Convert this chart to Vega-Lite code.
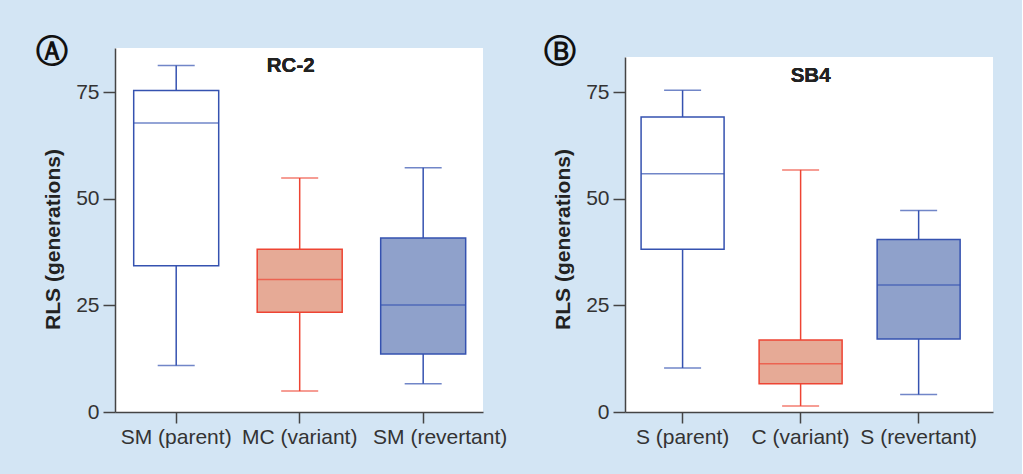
{
  "$schema": "https://vega.github.io/schema/vega-lite/v6.json",
  "background": "#d3e5f4",
  "padding": {"left": 35, "top": 36, "right": 29, "bottom": 27},
  "spacing": 36,
  "datasets": {
    "a": [
      {"g": "SM (parent)", "kind": "parent", "lo": 10.9, "q1": 34.3, "med": 67.8, "q3": 75.4, "hi": 81.3},
      {"g": "MC (variant)", "kind": "variant", "lo": 4.9, "q1": 23.4, "med": 31.1, "q3": 38.2, "hi": 54.9},
      {"g": "SM (revertant)", "kind": "revertant", "lo": 6.6, "q1": 13.6, "med": 25.1, "q3": 40.8, "hi": 57.3}
    ],
    "b": [
      {"g": "S (parent)", "kind": "parent", "lo": 10.3, "q1": 38.2, "med": 55.9, "q3": 69.2, "hi": 75.5},
      {"g": "C (variant)", "kind": "variant", "lo": 1.4, "q1": 6.6, "med": 11.3, "q3": 16.9, "hi": 56.8},
      {"g": "S (revertant)", "kind": "revertant", "lo": 4.1, "q1": 17.1, "med": 29.8, "q3": 40.5, "hi": 47.3}
    ]
  },
  "config": {
    "font": "Liberation Sans",
    "view": {"fill": "white", "stroke": null},
    "axis": {
      "grid": false,
      "domainColor": "#444",
      "domainWidth": 1.5,
      "tickColor": "#444",
      "tickWidth": 1.5,
      "labelFont": "Liberation Sans",
      "labelFontSize": 21,
      "labelColor": "#333",
      "titleFont": "Liberation Sans",
      "titleFontSize": 21,
      "titleFontWeight": "bold",
      "titleColor": "#222"
    },
    "axisX": {"tickSize": 11, "labelPadding": 3, "labelAngle": 0, "title": null},
    "axisY": {"tickSize": 12, "labelPadding": 4, "titlePadding": 12, "titleY": 191}
  },
  "hconcat": [
    {
      "width": 368,
      "height": 364,
      "data": {"name": "a"},
      "title": {"text": "Ⓐ", "anchor": "start", "frame": "bounds", "orient": "top", "offset": -21, "fontSize": 32, "font": "DejaVu Sans", "fontWeight": "bold", "color": "#111", "dx": -7},
      "encoding": {
        "x": {"field": "g", "type": "nominal", "sort": null, "scale": {"paddingInner": 0.3, "paddingOuter": 0.14, "align": 0.52}, "axis": {"title": null, "labelOffset": {"condition": {"test": "datum.value == 'SM (revertant)'", "value": 17}, "value": 0}}}
      },
      "layer": [
        {
          "mark": {"type": "rule", "strokeWidth": 1.5},
          "encoding": {
            "y": {"field": "lo", "type": "quantitative", "title": "RLS (generations)", "scale": {"domain": [0, 85.4], "nice": false}, "axis": {"values": [0, 25, 50, 75]}},
            "y2": {"field": "hi"},
            "color": {"field": "kind", "type": "nominal", "scale": {"domain": ["parent", "variant", "revertant"], "range": ["#3552b0", "#ee4433", "#3552b0"]}, "legend": null}
          }
        },
        {
          "mark": {"type": "bar", "size": 85, "strokeWidth": 1.5},
          "encoding": {
            "y": {"field": "q1", "type": "quantitative", "title": "RLS (generations)"},
            "y2": {"field": "q3"},
            "fill": {"field": "kind", "type": "nominal", "scale": {"domain": ["parent", "variant", "revertant"], "range": ["#ffffff", "#e6aa96", "#8fa1cb"]}, "legend": null},
            "stroke": {"field": "kind", "type": "nominal", "scale": {"domain": ["parent", "variant", "revertant"], "range": ["#3552b0", "#ee4433", "#3552b0"]}, "legend": null}
          }
        },
        {
          "mark": {"type": "tick", "size": 85, "thickness": 1.5},
          "encoding": {
            "y": {"field": "med", "type": "quantitative", "title": "RLS (generations)"},
            "color": {"field": "kind", "type": "nominal", "scale": {"domain": ["parent", "variant", "revertant"], "range": ["#3552b0", "#ee4433", "#3552b0"]}, "legend": null}
          }
        },
        {
          "mark": {"type": "tick", "size": 37, "thickness": 1.5},
          "encoding": {
            "y": {"field": "lo", "type": "quantitative", "title": "RLS (generations)"},
            "color": {"field": "kind", "type": "nominal", "scale": {"domain": ["parent", "variant", "revertant"], "range": ["#3552b0", "#ee4433", "#3552b0"]}, "legend": null}
          }
        },
        {
          "mark": {"type": "tick", "size": 37, "thickness": 1.5},
          "encoding": {
            "y": {"field": "hi", "type": "quantitative", "title": "RLS (generations)"},
            "color": {"field": "kind", "type": "nominal", "scale": {"domain": ["parent", "variant", "revertant"], "range": ["#3552b0", "#ee4433", "#3552b0"]}, "legend": null}
          }
        },
        {
          "mark": {"type": "text", "fontSize": 20.5, "fontWeight": "bold", "color": "#222", "dx": -9, "baseline": "middle"},
          "encoding": {
            "x": {"datum": "MC (variant)"},
            "y": {"datum": 81.2, "type": "quantitative", "title": "RLS (generations)"},
            "text": {"value": "RC-2"}
          }
        }
      ]
    },
    {
      "width": 368,
      "height": 364,
      "data": {"name": "b"},
      "title": {"text": "Ⓑ", "anchor": "start", "frame": "bounds", "orient": "top", "offset": -21, "fontSize": 32, "font": "DejaVu Sans", "fontWeight": "bold", "color": "#111", "dx": -9},
      "layer": [
        {
          "data": {"values": [{}]},
          "mark": {"type": "rect", "color": "#d3e5f4"},
          "encoding": {
            "y": {"datum": 83.3, "type": "quantitative", "title": "RLS (generations)", "scale": {"domain": [0, 85.4], "nice": false}, "axis": {"values": [0, 25, 50, 75], "domainDash": [355, 40]}},
            "y2": {"datum": 85.4}
          }
        },
        {
          "mark": {"type": "rule", "strokeWidth": 1.5},
          "encoding": {
            "x": {"field": "g", "type": "nominal", "sort": null, "scale": {"paddingInner": 0.3, "paddingOuter": 0.209, "align": 0.33}, "axis": {"title": null}},
            "y": {"field": "lo", "type": "quantitative", "title": "RLS (generations)"},
            "y2": {"field": "hi"},
            "color": {"field": "kind", "type": "nominal", "scale": {"domain": ["parent", "variant", "revertant"], "range": ["#3552b0", "#ee4433", "#3552b0"]}, "legend": null}
          }
        },
        {
          "mark": {"type": "bar", "size": 83, "strokeWidth": 1.5},
          "encoding": {
            "x": {"field": "g", "type": "nominal", "sort": null},
            "y": {"field": "q1", "type": "quantitative", "title": "RLS (generations)"},
            "y2": {"field": "q3"},
            "fill": {"field": "kind", "type": "nominal", "scale": {"domain": ["parent", "variant", "revertant"], "range": ["#ffffff", "#e6aa96", "#8fa1cb"]}, "legend": null},
            "stroke": {"field": "kind", "type": "nominal", "scale": {"domain": ["parent", "variant", "revertant"], "range": ["#3552b0", "#ee4433", "#3552b0"]}, "legend": null}
          }
        },
        {
          "mark": {"type": "tick", "size": 83, "thickness": 1.5},
          "encoding": {
            "x": {"field": "g", "type": "nominal", "sort": null},
            "y": {"field": "med", "type": "quantitative", "title": "RLS (generations)"},
            "color": {"field": "kind", "type": "nominal", "scale": {"domain": ["parent", "variant", "revertant"], "range": ["#3552b0", "#ee4433", "#3552b0"]}, "legend": null}
          }
        },
        {
          "mark": {"type": "tick", "size": 37, "thickness": 1.5},
          "encoding": {
            "x": {"field": "g", "type": "nominal", "sort": null},
            "y": {"field": "lo", "type": "quantitative", "title": "RLS (generations)"},
            "color": {"field": "kind", "type": "nominal", "scale": {"domain": ["parent", "variant", "revertant"], "range": ["#3552b0", "#ee4433", "#3552b0"]}, "legend": null}
          }
        },
        {
          "mark": {"type": "tick", "size": 37, "thickness": 1.5},
          "encoding": {
            "x": {"field": "g", "type": "nominal", "sort": null},
            "y": {"field": "hi", "type": "quantitative", "title": "RLS (generations)"},
            "color": {"field": "kind", "type": "nominal", "scale": {"domain": ["parent", "variant", "revertant"], "range": ["#3552b0", "#ee4433", "#3552b0"]}, "legend": null}
          }
        },
        {
          "mark": {"type": "text", "fontSize": 20.5, "fontWeight": "bold", "color": "#222", "dx": 10, "baseline": "middle"},
          "encoding": {
            "x": {"datum": "C (variant)"},
            "y": {"datum": 78.9, "type": "quantitative", "title": "RLS (generations)"},
            "text": {"value": "SB4"}
          }
        }
      ]
    }
  ]
}
